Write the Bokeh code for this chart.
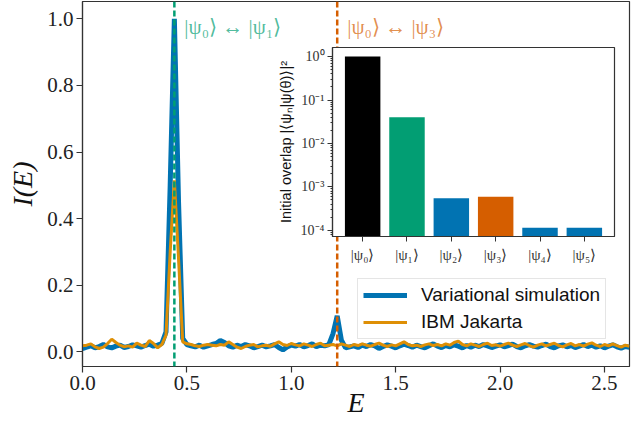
from bokeh.plotting import figure
from bokeh.layouts import column
from bokeh.models import (Range1d, Span, Label, Legend, LegendItem, FixedTicker,
                          LogTicker, CustomJSTickFormatter, PrintfTickFormatter)
from bokeh.embed import file_html
from bokeh.resources import INLINE

# ---------------- data ----------------
E = [0.00, 0.02, 0.04, 0.06, 0.08, 0.10, 0.12, 0.14, 0.16, 0.18,
     0.20, 0.22, 0.24, 0.26, 0.28, 0.30, 0.32, 0.34, 0.36, 0.38,
     0.40, 0.42, 0.44, 0.46, 0.48, 0.50, 0.52, 0.54, 0.56, 0.58,
     0.60, 0.62, 0.64, 0.66, 0.68, 0.70, 0.72, 0.74, 0.76, 0.78,
     0.80, 0.82, 0.84, 0.86, 0.88, 0.90, 0.92, 0.94, 0.96, 0.98,
     1.00, 1.02, 1.04, 1.06, 1.08, 1.10, 1.12, 1.14, 1.16, 1.18,
     1.20, 1.22, 1.24, 1.26, 1.28, 1.30, 1.32, 1.34, 1.36, 1.38,
     1.40, 1.42, 1.44, 1.46, 1.48, 1.50, 1.52, 1.54, 1.56, 1.58,
     1.60, 1.62, 1.64, 1.66, 1.68, 1.70, 1.72, 1.74, 1.76, 1.78,
     1.80, 1.82, 1.84, 1.86, 1.88, 1.90, 1.92, 1.94, 1.96, 1.98,
     2.00, 2.02, 2.04, 2.06, 2.08, 2.10, 2.12, 2.14, 2.16, 2.18,
     2.20, 2.22, 2.24, 2.26, 2.28, 2.30, 2.32, 2.34, 2.36, 2.38,
     2.40, 2.42, 2.44, 2.46, 2.48, 2.50, 2.52, 2.54, 2.56, 2.58,
     2.60, 2.62]

VARIATIONAL = [0.010, 0.014, 0.018, 0.012, 0.016, 0.022, 0.015, 0.012, 0.017, 0.020,
               0.013, 0.016, 0.021, 0.018, 0.014, 0.019, 0.023, 0.017, 0.020, 0.025,
               0.060, 0.500, 1.000, 0.450, 0.040, 0.022, 0.018, 0.015, 0.020, 0.014,
               0.018, 0.022, 0.025, 0.034, 0.028, 0.018, 0.014, 0.020, 0.016, 0.022,
               0.018, 0.012, 0.016, 0.020, 0.015, 0.018, 0.022, 0.013, 0.006, 0.015,
               0.020, 0.017, 0.022, 0.015, 0.019, 0.024, 0.016, 0.020, 0.018, 0.022,
               0.055, 0.108, 0.035, 0.012, 0.015, 0.018, 0.013, 0.020, 0.016, 0.022,
               0.018, 0.010, 0.016, 0.021, 0.017, 0.012, 0.018, 0.023, 0.019, 0.014,
               0.020, 0.016, 0.012, 0.018, 0.024, 0.017, 0.013, 0.019, 0.015, 0.021,
               0.017, 0.012, 0.019, 0.014, 0.020, 0.016, 0.022, 0.018, 0.013, 0.017,
               0.021, 0.015, 0.019, 0.023, 0.016, 0.012, 0.018, 0.022, 0.017, 0.014,
               0.019, 0.023, 0.016, 0.012, 0.018, 0.021, 0.015, 0.019, 0.013, 0.017,
               0.022, 0.016, 0.020, 0.014, 0.018, 0.012, 0.017, 0.021, 0.015, 0.011,
               0.016, 0.014]

JAKARTA = [0.018, 0.020, 0.024, 0.015, 0.010, 0.014, 0.025, 0.038, 0.028, 0.020,
           0.015, 0.018, 0.014, 0.026, 0.020, 0.016, 0.034, 0.025, 0.012, 0.022,
           0.050, 0.300, 0.515, 0.280, 0.030, 0.024, 0.022, 0.018, 0.016, 0.020,
           0.022, 0.020, 0.018, 0.022, 0.020, 0.030, 0.022, 0.014, 0.010, 0.016,
           0.020, 0.022, 0.015, 0.018, 0.020, 0.017, 0.024, 0.030, 0.022, 0.019,
           0.025, 0.021, 0.018, 0.024, 0.020, 0.016, 0.022, 0.026, 0.018, 0.020,
           0.022, 0.018, 0.024, 0.020, 0.016, 0.022, 0.019, 0.024, 0.020, 0.017,
           0.022, 0.026, 0.020, 0.016, 0.021, 0.018, 0.024, 0.030, 0.022, 0.018,
           0.020, 0.016, 0.021, 0.024, 0.019, 0.022, 0.018, 0.024, 0.020, 0.028,
           0.032, 0.022, 0.018, 0.024, 0.020, 0.016, 0.022, 0.026, 0.019, 0.021,
           0.017, 0.022, 0.026, 0.020, 0.016, 0.021, 0.025, 0.019, 0.014, 0.020,
           0.024, 0.018, 0.022, 0.026, 0.019, 0.015, 0.021, 0.025, 0.018, 0.022,
           0.017, 0.023, 0.027, 0.020, 0.016, 0.022, 0.018, 0.024, 0.019, 0.014,
           0.020, 0.017]

SERIES_NAMES = ["Variational simulation", "IBM Jakarta"]
SERIES_COLORS = ["#0173B2", "#DE8F05"]

TRANSITIONS = [0.44, 1.22]
TRANSITION_LABELS = ["|ψ₀⟩ ↔ |ψ₁⟩", "|ψ₀⟩ ↔ |ψ₃⟩"]
TRANSITION_COLORS = ["#029E73", "#D55E00"]

X_TICKS = [0.0, 0.5, 1.0, 1.5, 2.0, 2.5]
Y_TICKS = [0.0, 0.2, 0.4, 0.6, 0.8, 1.0]

STATES = ["|ψ₀⟩", "|ψ₁⟩", "|ψ₂⟩", "|ψ₃⟩", "|ψ₄⟩", "|ψ₅⟩"]
STATE_INDEX = [0, 1, 2, 3, 4, 5]
OVERLAP = [1.0, 0.040, 5.5e-4, 5.9e-4, 1.14e-4, 1.14e-4]
BAR_COLORS = ["#000000", "#029E73", "#0173B2", "#D55E00", "#0173B2", "#0173B2"]

SERIF = "Liberation Serif"
SANS = "Liberation Sans"
AX = "#333333"

# ---------------- main figure ----------------
p = figure(width=633, height=421, x_range=Range1d(0, 2.62), y_range=Range1d(-0.044, 1.052),
           output_backend="svg", toolbar_location=None,
           min_border_left=79, min_border_right=4, min_border_top=1, min_border_bottom=55)
p.grid.visible = False
p.outline_line_color = AX
p.outline_line_width = 1.2
p.background_fill_color = "white"
p.border_fill_color = "white"

for ax in (p.xaxis[0], p.yaxis[0]):
    ax.axis_line_color = AX
    ax.axis_line_width = 1.2
    ax.major_tick_line_color = AX
    ax.major_tick_line_width = 1.2
    ax.major_tick_out = 6
    ax.major_tick_in = 0
    ax.minor_tick_line_color = None
    ax.major_label_text_font = SERIF
    ax.major_label_text_font_size = "21px"
    ax.major_label_text_color = "#222222"
    ax.major_label_standoff = 3
    ax.axis_label_text_font = SERIF
    ax.axis_label_text_font_style = "italic"
    ax.axis_label_text_font_size = "28px"
    ax.axis_label_text_color = "#111111"
    ax.formatter = PrintfTickFormatter(format="%.1f")

p.xaxis.ticker = FixedTicker(ticks=X_TICKS)
p.yaxis.ticker = FixedTicker(ticks=Y_TICKS)
p.xaxis.axis_label = "E"
p.yaxis.axis_label = "I(E)"
p.xaxis.axis_label_standoff = -6
p.yaxis.axis_label_standoff = 6

r_var = p.line(E, VARIATIONAL, line_color=SERIES_COLORS[0], line_width=5)
r_jak = p.line(E, JAKARTA, line_color=SERIES_COLORS[1], line_width=3)

for t, lab, c in zip(TRANSITIONS, TRANSITION_LABELS, TRANSITION_COLORS):
    p.add_layout(Span(location=t, dimension="height", line_color=c,
                      line_dash="6 3", line_width=2.5))
    p.add_layout(Label(x=t, y=0.975, x_offset=10, text=lab, text_font=SERIF,
                       text_font_size="21px", text_color=c, text_alpha=0.7,
                       text_baseline="middle"))

legend = Legend(items=[LegendItem(label=SERIES_NAMES[0], renderers=[r_var]),
                       LegendItem(label=SERIES_NAMES[1], renderers=[r_jak])],
                location=(275, 27), margin=0, padding=5, spacing=5,
                glyph_width=44, glyph_height=22, label_standoff=14,
                label_text_font=SANS, label_text_font_size="19px",
                label_text_color="#111111",
                border_line_color="#cccccc", border_line_width=1,
                background_fill_color="white", background_fill_alpha=0.8)
p.add_layout(legend)

# ---------------- inset ----------------
ins = figure(width=368, height=231, x_range=Range1d(-0.68, 5.68),
             y_range=Range1d(7.2e-5, 1.62), y_axis_type="log",
             output_backend="svg", toolbar_location=None,
             min_border_left=82, min_border_right=3, min_border_top=8, min_border_bottom=34)
ins.grid.visible = False
ins.border_fill_alpha = 0
ins.background_fill_color = "white"
ins.outline_line_color = AX
ins.outline_line_width = 1.2
ins.margin = (-382, 0, 0, 250)

ins.vbar(x=STATE_INDEX, top=OVERLAP, bottom=1e-6, width=0.8, fill_color=BAR_COLORS,
         line_color=None)

ins.xaxis.ticker = FixedTicker(ticks=STATE_INDEX)
ins.xaxis.formatter = CustomJSTickFormatter(args=dict(labels=STATES),
                                            code="return labels[Math.round(tick)] || '';")
ins.yaxis.ticker = LogTicker(num_minor_ticks=10)
ins.yaxis.formatter = CustomJSTickFormatter(code="""
const e = Math.round(Math.log10(tick));
const sup = {'-':'\u207b','0':'\u2070','1':'\u00b9','2':'\u00b2','3':'\u00b3','4':'\u2074','5':'\u2075','6':'\u2076','7':'\u2077','8':'\u2078','9':'\u2079'};
return '10' + String(e).split('').map(c => sup[c]).join('');
""")
for ax in (ins.xaxis[0], ins.yaxis[0]):
    ax.axis_line_color = AX
    ax.axis_line_width = 1.2
    ax.major_tick_line_color = AX
    ax.major_tick_out = 5
    ax.major_tick_in = 0
    ax.minor_tick_line_color = AX
    ax.minor_tick_out = 2
    ax.minor_tick_in = 0
    ax.major_label_text_font = SERIF
    ax.major_label_text_font_size = "14px"
    ax.major_label_text_color = "#333333"
    ax.major_label_standoff = 3
ins.xaxis.minor_tick_line_color = None
ins.xaxis.major_label_standoff = 5
ins.xaxis.major_label_text_font_size = "15px"
ins.yaxis.axis_label = "Initial overlap |⟨ψₙ|ψ(θ)⟩|²"
ins.yaxis.axis_label_text_font = SANS
ins.yaxis.axis_label_text_font_style = "normal"
ins.yaxis.axis_label_text_font_size = "14.5px"
ins.yaxis.axis_label_text_color = "#111111"
ins.yaxis.axis_label_standoff = 4

layout = column(p, ins)
open("out.html", "w").write(file_html(layout, INLINE))
